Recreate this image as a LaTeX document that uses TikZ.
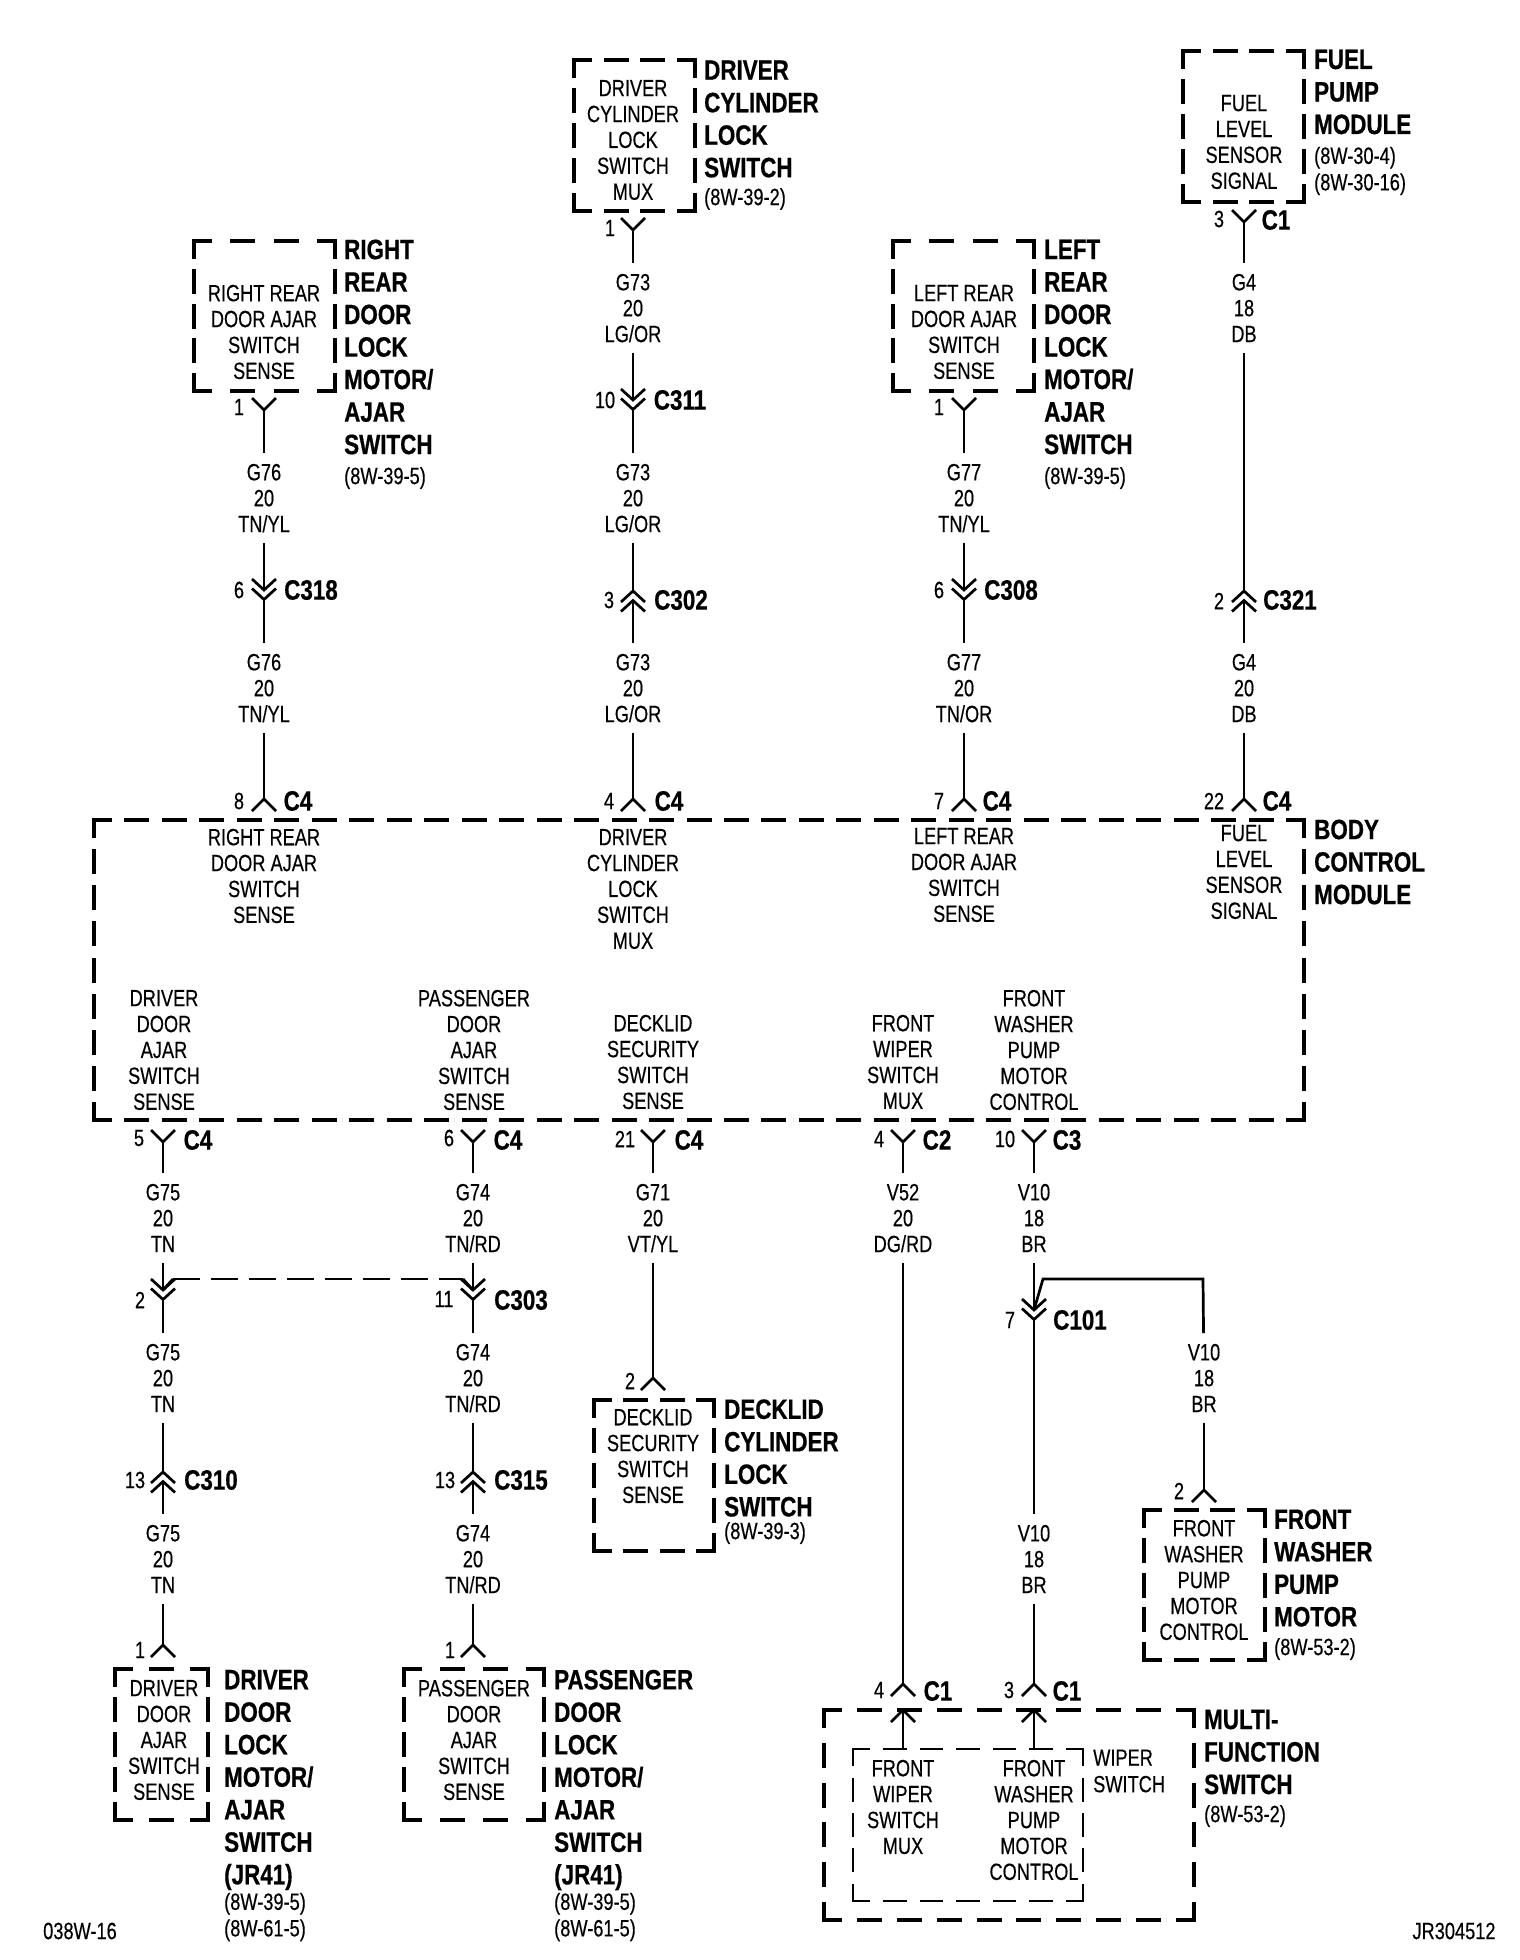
\documentclass[tikz,border=0pt]{standalone}
\usepackage{fontspec}
\setmainfont[FakeStretch=0.775,FakeBold=0.35,BoldFeatures={FakeStretch=0.8,FakeBold=0.6}]{Liberation Sans}
\tikzset{
  wire/.style={line width=2.7pt},
  boxline/.style={line width=4pt,line cap=rect},
  thinline/.style={line width=2.6pt,line cap=rect},
  boxnode/.style={inner sep=0pt,outer sep=0pt},
  wirelabel/.style={align=center,inner xsep=0pt,inner ysep=10.5pt,text depth=0pt,font=\fontsize{23.5}{25.9}\selectfont},
  boxtext/.style={align=center,inner sep=0pt,font=\fontsize{23.5}{25.9}\selectfont},
  pinnum/.style={inner sep=0pt,font=\fontsize{23.5}{25.9}\selectfont},
  connname/.style={inner sep=0pt,font=\fontsize{28}{32}\selectfont\bfseries},
  partname/.style={align=left,anchor=west,inner sep=0pt,font=\fontsize{28}{32.5}\selectfont\bfseries},
  partref/.style={align=left,anchor=west,inner sep=0pt,font=\fontsize{23.5}{26.5}\selectfont}
}
\newcommand{\dside}[4][boxline]{%
  \pgfmathsetmacro{\ndash}{round((#4-49)/38)}%
  \pgfmathsetmacro{\offdash}{(#4-32-21*\ndash)/(\ndash+1)}%
  \draw[#1,dash pattern=on 21pt off \offdash pt,dash phase=5pt] (#2) -- (#3);}
\newcommand{\dbox}[6][boxline]{%
  \node[boxnode,minimum width=#5-#3,minimum height=#6-#4] (#2) at ({(#3+#5)/2},{(#4+#6)/2}) {};
  \dside[#1]{#2.north west}{#2.north east}{(#5-#3)}
  \dside[#1]{#2.south west}{#2.south east}{(#5-#3)}
  \dside[#1]{#2.north west}{#2.south west}{(#6-#4)}
  \dside[#1]{#2.north east}{#2.south east}{(#6-#4)}}
\newcommand{\pindn}[3]{%
  \coordinate (#1) at (#2,#3);
  \draw[wire] (#2-12,#3-12) -- (#1) -- (#2+12,#3-12);}
\newcommand{\pinup}[3]{%
  \coordinate (#1) at (#2,#3);
  \draw[wire] (#2-12,#3+12) -- (#1) -- (#2+12,#3+12);}
\newcommand{\plugdn}[3]{%
  \coordinate (#1) at (#2,#3);
  \coordinate (#1b) at (#2,#3+9.5);
  \draw[wire] (#2-12,#3-11) -- (#1) -- (#2+12,#3-11);
  \draw[wire] (#2-12,#3-1.5) -- (#1b) -- (#2+12,#3-1.5);}
\newcommand{\plugup}[3]{%
  \coordinate (#1) at (#2,#3);
  \coordinate (#1b) at (#2,#3+9.5);
  \draw[wire] (#2-12,#3+11) -- (#1) -- (#2+12,#3+11);
  \draw[wire] (#2-12,#3+20.5) -- (#1b) -- (#2+12,#3+20.5);}
\begin{document}
\begin{tikzpicture}[x=1pt,y=-1pt]
\useasboundingbox (0,0) rectangle (1520,1960);

% boxes
\dbox{drvbox}{574}{60}{695}{211}
\dbox{fuelbox}{1183}{51}{1304}{202}
\dbox{rrbox}{194}{241}{335}{391}
\dbox{lrbox}{893}{241}{1034}{391}
\dbox{bcmbox}{94}{820}{1304}{1120}
\dbox{dekbox}{594}{1400}{714}{1551}
\dbox{washbox}{1144}{1510}{1265}{1660}
\dbox{dodbox}{115}{1669}{208}{1820}
\dbox{padbox}{404}{1669}{544}{1820}
\dbox{mfsbox}{824}{1710}{1194}{1920}
\dbox[thinline]{wipbox}{853}{1749}{1083}{1901}

% text in the boxes
\node[boxtext] (drvtxt) at (633,140) {DRIVER\\CYLINDER\\LOCK\\SWITCH\\MUX};
\node[boxtext] (fueltxt) at (1244,142) {FUEL\\LEVEL\\SENSOR\\SIGNAL};
\node[boxtext] (rrtxt) at (264,332) {RIGHT REAR\\DOOR AJAR\\SWITCH\\SENSE};
\node[boxtext] (lrtxt) at (964,332) {LEFT REAR\\DOOR AJAR\\SWITCH\\SENSE};
\node[boxtext] (bcmrr) at (264,876) {RIGHT REAR\\DOOR AJAR\\SWITCH\\SENSE};
\node[boxtext] (bcmdrv) at (633,889) {DRIVER\\CYLINDER\\LOCK\\SWITCH\\MUX};
\node[boxtext] (bcmlr) at (964,875) {LEFT REAR\\DOOR AJAR\\SWITCH\\SENSE};
\node[boxtext] (bcmfuel) at (1244,872) {FUEL\\LEVEL\\SENSOR\\SIGNAL};
\node[boxtext] (bcmdd) at (164,1050) {DRIVER\\DOOR\\AJAR\\SWITCH\\SENSE};
\node[boxtext] (bcmpd) at (474,1050) {PASSENGER\\DOOR\\AJAR\\SWITCH\\SENSE};
\node[boxtext] (bcmdek) at (653,1062) {DECKLID\\SECURITY\\SWITCH\\SENSE};
\node[boxtext] (bcmwip) at (903,1062) {FRONT\\WIPER\\SWITCH\\MUX};
\node[boxtext] (bcmwash) at (1034,1050) {FRONT\\WASHER\\PUMP\\MOTOR\\CONTROL};
\node[boxtext] (dektxt) at (653,1456) {DECKLID\\SECURITY\\SWITCH\\SENSE};
\node[boxtext] (washtxt) at (1204,1580) {FRONT\\WASHER\\PUMP\\MOTOR\\CONTROL};
\node[boxtext] (ddtxt) at (164,1740) {DRIVER\\DOOR\\AJAR\\SWITCH\\SENSE};
\node[boxtext] (pdtxt) at (474,1740) {PASSENGER\\DOOR\\AJAR\\SWITCH\\SENSE};
\node[boxtext] (mfswip) at (903,1807) {FRONT\\WIPER\\SWITCH\\MUX};
\node[boxtext] (mfswash) at (1034,1820) {FRONT\\WASHER\\PUMP\\MOTOR\\CONTROL};
\node[partref,align=left] (wiptxt) at (1093,1771) {WIPER\\SWITCH};

% part names
\node[partname] (drvname) at (704,119) {DRIVER\\CYLINDER\\LOCK\\SWITCH};
\node[partref] (drvref) at (704,199) {(8W-39-2)};
\node[partname] (fuelname) at (1314,92) {FUEL\\PUMP\\MODULE};
\node[partref] (fuelref) at (1314,171) {(8W-30-4)\\(8W-30-16)};
\node[partname] (rrname) at (344,347) {RIGHT\\REAR\\DOOR\\LOCK\\MOTOR/\\AJAR\\SWITCH};
\node[partref] (rrref) at (344,478) {(8W-39-5)};
\node[partname] (lrname) at (1044,347) {LEFT\\REAR\\DOOR\\LOCK\\MOTOR/\\AJAR\\SWITCH};
\node[partref] (lrref) at (1044,478) {(8W-39-5)};
\node[partname] (bcmname) at (1314,862) {BODY\\CONTROL\\MODULE};
\node[partname] (dekname) at (724,1458) {DECKLID\\CYLINDER\\LOCK\\SWITCH};
\node[partref] (dekref) at (724,1533) {(8W-39-3)};
\node[partname] (washname) at (1274,1568) {FRONT\\WASHER\\PUMP\\MOTOR};
\node[partref] (washref) at (1274,1649) {(8W-53-2)};
\node[partname] (ddname) at (224,1780) {DRIVER\\DOOR\\LOCK\\MOTOR/\\AJAR\\SWITCH\\(JR41)};
\node[partref] (ddref) at (224,1917) {(8W-39-5)\\(8W-61-5)};
\node[partname] (pdname) at (554,1780) {PASSENGER\\DOOR\\LOCK\\MOTOR/\\AJAR\\SWITCH\\(JR41)};
\node[partref] (pdref) at (554,1917) {(8W-39-5)\\(8W-61-5)};
\node[partname] (mfsname) at (1204,1752) {MULTI-\\FUNCTION\\SWITCH};
\node[partref] (mfsref) at (1204,1816) {(8W-53-2)};

% pins and plugs
\pindn{pdrv}{633}{230}
\pindn{pfuel}{1244}{222}
\pindn{prr}{264}{410}
\pindn{plr}{964}{410}
\plugdn{c311}{633}{400}
\plugdn{c318}{264}{590}
\plugup{c302}{633}{591}
\plugdn{c308}{964}{590}
\plugup{c321}{1244}{591}
\pinup{c4rr}{264}{799}
\pinup{c4drv}{633}{799}
\pinup{c4lr}{964}{799}
\pinup{c4fuel}{1244}{799}
\pindn{c4dd}{163}{1142}
\pindn{c4pd}{473}{1142}
\pindn{c4dek}{653}{1142}
\pindn{c2wip}{903}{1142}
\pindn{c3wash}{1034}{1142}
\plugdn{cdd}{163}{1290}
\plugdn{c303}{473}{1290}
\plugdn{c101}{1034}{1310}
\plugup{c310}{163}{1472}
\plugup{c315}{473}{1472}
\pinup{pdek}{653}{1378}
\pinup{pwash}{1204}{1490}
\pinup{pdd}{163}{1645}
\pinup{ppd}{473}{1645}
\pinup{c1wip}{903}{1684}
\pinup{c1wash}{1034}{1684}
\pinup{iwip}{903}{1710}
\pinup{iwash}{1034}{1710}

% wire labels
\node[wirelabel] (g73a) at (633,308) {G73\\20\\LG/OR};
\node[wirelabel] (g73b) at (633,498) {G73\\20\\LG/OR};
\node[wirelabel] (g73c) at (633,688) {G73\\20\\LG/OR};
\node[wirelabel] (g76a) at (264,498) {G76\\20\\TN/YL};
\node[wirelabel] (g76b) at (264,688) {G76\\20\\TN/YL};
\node[wirelabel] (g77a) at (964,498) {G77\\20\\TN/YL};
\node[wirelabel] (g77b) at (964,688) {G77\\20\\TN/OR};
\node[wirelabel] (g4a) at (1244,308) {G4\\18\\DB};
\node[wirelabel] (g4b) at (1244,688) {G4\\20\\DB};
\node[wirelabel] (g75a) at (163,1218) {G75\\20\\TN};
\node[wirelabel] (g75b) at (163,1378) {G75\\20\\TN};
\node[wirelabel] (g75c) at (163,1559) {G75\\20\\TN};
\node[wirelabel] (g74a) at (473,1218) {G74\\20\\TN/RD};
\node[wirelabel] (g74b) at (473,1378) {G74\\20\\TN/RD};
\node[wirelabel] (g74c) at (473,1559) {G74\\20\\TN/RD};
\node[wirelabel] (g71) at (653,1218) {G71\\20\\VT/YL};
\node[wirelabel] (v52) at (903,1218) {V52\\20\\DG/RD};
\node[wirelabel] (v10a) at (1034,1218) {V10\\18\\BR};
\node[wirelabel] (v10b) at (1034,1559) {V10\\18\\BR};
\node[wirelabel] (v10c) at (1204,1378) {V10\\18\\BR};

% wires
\draw[wire] (pdrv) -- (g73a);
\draw[wire] (g73a) -- (c311);
\draw[wire] (c311b) -- (g73b);
\draw[wire] (g73b) -- (c302);
\draw[wire] (c302b) -- (g73c);
\draw[wire] (g73c) -- (c4drv);
\draw[wire] (prr) -- (g76a);
\draw[wire] (g76a) -- (c318);
\draw[wire] (c318b) -- (g76b);
\draw[wire] (g76b) -- (c4rr);
\draw[wire] (plr) -- (g77a);
\draw[wire] (g77a) -- (c308);
\draw[wire] (c308b) -- (g77b);
\draw[wire] (g77b) -- (c4lr);
\draw[wire] (pfuel) -- (g4a);
\draw[wire] (g4a) -- (c321);
\draw[wire] (c321b) -- (g4b);
\draw[wire] (g4b) -- (c4fuel);
\draw[wire] (c4dd) -- (g75a);
\draw[wire] (g75a) -- (cdd);
\draw[wire] (cddb) -- (g75b);
\draw[wire] (g75b) -- (c310);
\draw[wire] (c310b) -- (g75c);
\draw[wire] (g75c) -- (pdd);
\draw[wire] (c4pd) -- (g74a);
\draw[wire] (g74a) -- (c303);
\draw[wire] (c303b) -- (g74b);
\draw[wire] (g74b) -- (c315);
\draw[wire] (c315b) -- (g74c);
\draw[wire] (g74c) -- (ppd);
\draw[wire] (c4dek) -- (g71);
\draw[wire] (g71) -- (pdek);
\draw[wire] (c2wip) -- (v52);
\draw[wire] (v52) -- (c1wip);
\draw[wire] (c3wash) -- (v10a);
\draw[wire] (v10a) -- (c101);
\draw[wire] (c101b) -- (v10b);
\draw[wire] (v10b) -- (c1wash);
\draw[wire] (v10c) -- (pwash);
\draw[wire] (iwip) -- (iwip |- wipbox.north);
\draw[wire] (iwash) -- (iwash |- wipbox.north);

\coordinate (lnkl) at (173,1279);
\coordinate (lnkr) at (463,1279);
\draw[wire] (cdd) -- (lnkl);
\draw[wire,dash pattern=on 27pt off 11pt] (lnkl) -- (lnkr);
\draw[wire] (lnkr) -- (c303);
\coordinate (brl) at (1043,1279);
\coordinate (brr) at (1203,1279);
\draw[wire] (c101) -- (brl) -- (brr) -- (v10c);

% pin numbers and connector names
\foreach \nm/\px/\py/\tx in {n1/610/228/1,n2/1219/219/3,n3/239/407/1,n4/939/407/1,n5/605/400/10,n6/239/590/6,
  n7/609/600/3,n8/939/590/6,n9/1219/601/2,n10/239/801/8,n11/609/801/4,n12/939/801/7,n13/1214/801/22,
  n14/139/1138/5,n15/449/1138/6,n16/625/1139/21,n17/879/1139/4,n18/1005/1139/10,n19/140/1300/2,n20/444/1299/11,
  n21/1010/1320/7,n22/135/1480/13,n23/445/1480/13,n24/630/1381/2,n25/1179/1491/2,n26/140/1650/1,n27/450/1650/1,
  n28/879/1690/4,n29/1009/1690/3}
  \node[pinnum] (\nm) at (\px,\py) {\tx};
\foreach \nm/\px/\py/\tx in {k1/1276/220/C1,k2/680/400/C311,k3/311/590/C318,k4/681/600/C302,k5/1011/590/C308,k6/1290/600/C321,
  k7/298/801/C4,k8/669/801/C4,k9/997/801/C4,k10/1277/801/C4,k11/198/1140/C4,k12/508/1140/C4,k13/689/1140/C4,k14/937/1140/C2,
  k15/1067/1140/C3,k16/521/1300/C303,k17/1080/1320/C101,k18/211/1480/C310,k19/521/1480/C315,k20/938/1691/C1,k21/1067/1691/C1}
  \node[connname] (\nm) at (\px,\py) {\tx};

% drawing numbers
\node[pinnum] (dwgl) at (80,1931) {038W-16};
\node[pinnum] (dwgr) at (1454,1931) {JR304512};
\end{tikzpicture}
\end{document}
